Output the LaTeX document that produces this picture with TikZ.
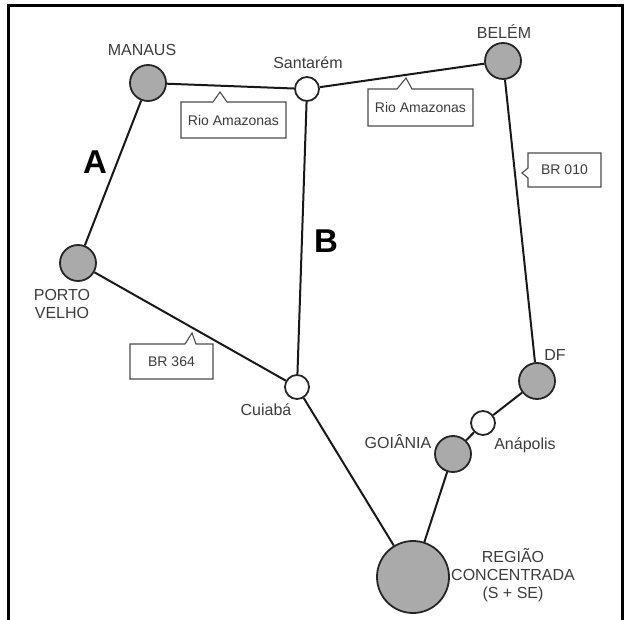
\documentclass[tikz,border=0pt]{standalone}
\usepackage{fontspec}
\setmainfont{Liberation Sans}
\definecolor{cityfill}{RGB}{170,170,170}
\definecolor{txt}{RGB}{60,60,60}
\begin{document}
\begin{tikzpicture}[x=1pt,y=-1pt,
  bigcity/.style={circle,draw=black!85,line width=1.8pt,fill=cityfill,minimum size=36pt,inner sep=0pt},
  smallcity/.style={circle,draw=black!85,line width=1.8pt,fill=white,minimum size=24pt,inner sep=0pt},
  region/.style={circle,draw=black!85,line width=1.8pt,fill=cityfill,minimum size=72pt,inner sep=0pt},
  road/.style={line width=2pt,black!90},
  lbl/.style={inner sep=0pt,text=txt,font=\fontsize{16}{18}\selectfont,align=center},
  boxtxt/.style={inner sep=0pt,text=txt,font=\fontsize{14}{16}\selectfont},
  callout/.style={draw=black!70,line width=1.1pt,fill=white,line join=miter},
  big/.style={inner sep=0pt,font=\fontsize{33}{36}\selectfont\bfseries}
]
\useasboundingbox (0,0) rectangle (624,620);
% frame
\draw[line width=3pt] (8,622) -- (8,6) -- (622,6) -- (622,622);

% cities
\node[bigcity] (manaus) at (148,83) {};
\node[smallcity] (santarem) at (307,89) {};
\node[bigcity] (belem) at (503,61) {};
\node[bigcity] (porto) at (78,263) {};
\node[smallcity] (cuiaba) at (297,387) {};
\node[bigcity] (df) at (537,381) {};
\node[smallcity] (anapolis) at (483,423) {};
\node[bigcity] (goiania) at (453,454) {};
\node[region] (regiao) at (413,577) {};

% roads
\draw[road] (manaus) -- (santarem);
\draw[road] (santarem) -- (belem);
\draw[road] (manaus) -- (porto);
\draw[road] (porto) -- (cuiaba);
\draw[road] (santarem) -- (cuiaba);
\draw[road] (cuiaba) -- (regiao);
\draw[road] (regiao) -- (goiania);
\draw[road] (goiania) -- (anapolis);
\draw[road] (anapolis) -- (df);
\draw[road] (df) -- (belem);

% labels
\node[lbl] (manausL) at (142,50) {MANAUS};
\node[lbl] (santaremL) at (308,63) {Santarém};
\node[lbl] (belemL) at (504,32) {BELÉM};
\node[lbl] (portoL) at (62,304) {PORTO\\VELHO};
\node[lbl] (cuiabaL) at (266,410) {Cuiabá};
\node[lbl] (dfL) at (555,355) {DF};
\node[lbl] (anapolisL) at (525,445) {Anápolis};
\node[lbl] (goianiaL) at (398,442) {GOIÂNIA};
\node[lbl] (regiaoL) at (513,575) {REGIÃO\\CONCENTRADA\\(S + SE)};

\node[big] (A) at (95,162) {A};
\node[big] (B) at (326,241) {B};

% callouts
\draw[callout] (181,102) -- (213,102) -- (220,92) -- (227,102) -- (286,102) -- (286,138) -- (181,138) -- cycle;
\node[boxtxt] (rio1) at (233.5,120) {Rio Amazonas};
\draw[callout] (368,89) -- (397,89) -- (406,78) -- (412,89) -- (473,89) -- (473,126) -- (368,126) -- cycle;
\node[boxtxt] (rio2) at (420.5,107.5) {Rio Amazonas};
\draw[callout] (528,153) -- (601,153) -- (601,187) -- (528,187) -- (528,178) -- (522,173) -- (528,168) -- cycle;
\node[boxtxt] (br010) at (564.5,170) {BR 010};
\draw[callout] (130,344) -- (185,344) -- (192,333) -- (196,344) -- (213,344) -- (213,379) -- (130,379) -- cycle;
\node[boxtxt] (br364) at (171.5,361.5) {BR 364};
\end{tikzpicture}
\end{document}
